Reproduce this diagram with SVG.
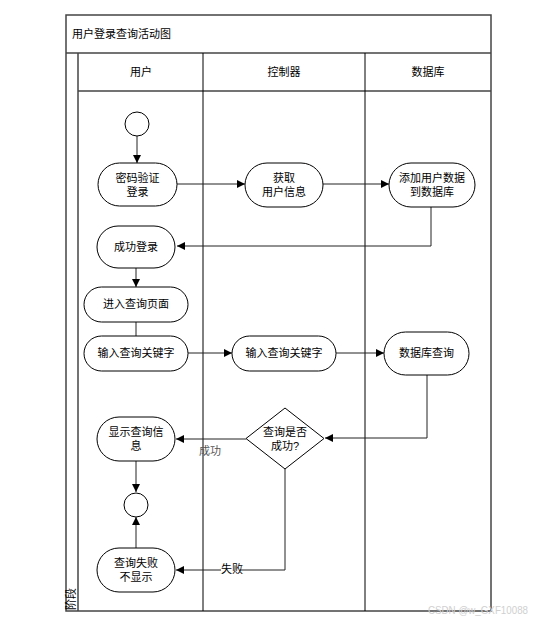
<svg xmlns="http://www.w3.org/2000/svg" width="533" height="623" viewBox="0 0 533 623">
<style>
text{font-family:"Liberation Sans","Noto Sans CJK SC",sans-serif;font-size:11px;fill:#000}
.c{text-anchor:middle}
.n{fill:#fff;stroke:#000;stroke-width:1}
.frame{fill:none;stroke:#444;stroke-width:1.5}
.lane{stroke:#000;stroke-width:1;fill:none}
.e{fill:none;stroke:#222;stroke-width:1}
.lbl{fill:#555}
</style>
<defs>
<marker id="a" viewBox="0 0 10 10" refX="10" refY="5" markerWidth="8" markerHeight="8" markerUnits="userSpaceOnUse" orient="auto">
<path d="M0,0 L10,5 L0,10 z" fill="#000"/>
</marker>
</defs>
<rect width="533" height="623" fill="#fff"/>
<g id="pool">
<rect class="frame" x="66" y="15" width="425" height="596"/>
<line class="frame" x1="66" y1="53" x2="491" y2="53"/>
<line class="frame" x1="78" y1="53" x2="78" y2="611"/>
<line class="frame" x1="78" y1="91" x2="491" y2="91"/>
<line class="lane" x1="203" y1="53" x2="203" y2="611"/>
<line class="lane" x1="365" y1="53" x2="365" y2="611"/>
<text x="72" y="38">用户登录查询活动图</text>
<text class="c" x="141" y="76">用户</text>
<text class="c" x="284" y="76">控制器</text>
<text class="c" x="428" y="76">数据库</text>
<text x="0" y="0" font-size="10" transform="translate(75,610) rotate(-90)">阶段</text>
</g>
<g id="edges">
<line class="e" x1="137" y1="136" x2="137" y2="163" marker-end="url(#a)"/>
<line class="e" x1="177" y1="184" x2="245" y2="184" marker-end="url(#a)"/>
<line class="e" x1="323" y1="184" x2="389" y2="184" marker-end="url(#a)"/>
<polyline class="e" points="431,207 431,246 177,246" marker-end="url(#a)"/>
<line class="e" x1="136" y1="268" x2="136" y2="287" marker-end="url(#a)"/>
<line class="e" x1="136" y1="322" x2="136" y2="336"/>
<line class="e" x1="188" y1="353" x2="232" y2="353" marker-end="url(#a)"/>
<line class="e" x1="336" y1="353" x2="384" y2="353" marker-end="url(#a)"/>
<polyline class="e" points="427,375 427,438 325,438" marker-end="url(#a)"/>
<line class="e" x1="246" y1="439" x2="176" y2="439" marker-end="url(#a)"/>
<text class="lbl" x="199" y="455">成功</text>
<line class="e" x1="136" y1="461" x2="136" y2="492" marker-end="url(#a)"/>
<line class="e" x1="136" y1="548" x2="136" y2="517" marker-end="url(#a)"/>
<polyline class="e" points="285,469 285,570 176,570" marker-end="url(#a)"/>
<rect x="221" y="565" width="19" height="10" fill="#fff"/>
<text x="221" y="573" font-size="9">失败</text>
</g>
<g id="start"><circle class="n" cx="137" cy="124" r="12"/></g>
<g id="n1"><rect class="n" x="98" y="163" width="79" height="43" rx="21.5"/><text class="c" x="137.5" y="182">密码验证</text><text class="c" x="137.5" y="196">登录</text></g>
<g id="n2"><rect class="n" x="245" y="163" width="78" height="44" rx="22"/><text class="c" x="284" y="182">获取</text><text class="c" x="284" y="196">用户信息</text></g>
<g id="n3"><rect class="n" x="389" y="163" width="86" height="44" rx="22"/><text class="c" x="432" y="182">添加用户数据</text><text class="c" x="432" y="196">到数据库</text></g>
<g id="n4"><rect class="n" x="97" y="226" width="78" height="42" rx="21"/><text class="c" x="136" y="251">成功登录</text></g>
<g id="n5"><rect class="n" x="84" y="287" width="104" height="35" rx="17.5"/><text class="c" x="136" y="308">进入查询页面</text></g>
<g id="n6"><rect class="n" x="84" y="336" width="104" height="35" rx="17.5"/><text class="c" x="136" y="357">输入查询关键字</text></g>
<g id="n7"><rect class="n" x="232" y="336" width="104" height="35" rx="17.5"/><text class="c" x="284" y="357">输入查询关键字</text></g>
<g id="n8"><rect class="n" x="384" y="332" width="85" height="43" rx="21.5"/><text class="c" x="426.5" y="357">数据库查询</text></g>
<g id="d1"><polygon class="n" points="285,408 324,438.5 285,469 246,438.5"/><text class="c" x="285" y="436">查询是否</text><text class="c" x="285" y="450">成功?</text></g>
<g id="n9"><rect class="n" x="97" y="417" width="78" height="44" rx="22"/><text class="c" x="136" y="436">显示查询信</text><text class="c" x="136" y="450">息</text></g>
<g id="end"><circle class="n" cx="136" cy="505" r="12"/></g>
<g id="n10"><rect class="n" x="97" y="548" width="78" height="44" rx="22"/><text class="c" x="136" y="567">查询失败</text><text class="c" x="136" y="581">不显示</text></g>
<text x="428" y="614" font-size="9" textLength="100" lengthAdjust="spacingAndGlyphs" style="fill:#d0d0d0">CSDN @w_GXF10088</text>
</svg>
